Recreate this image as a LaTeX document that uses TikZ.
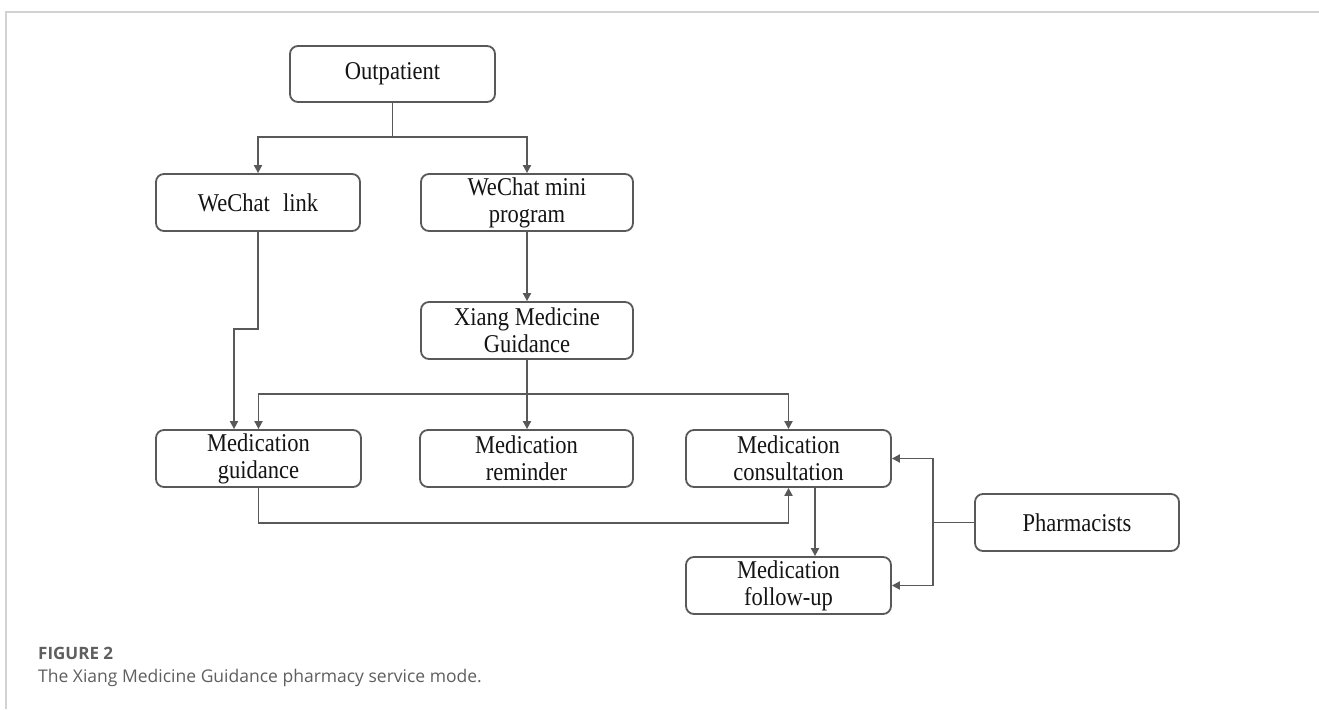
\documentclass[tikz,border=0pt]{standalone}
\usepackage{fontspec}
\setmainfont{Liberation Serif}
\newfontfamily\boxfont[FakeStretch=0.88]{Liberation Serif}
\newfontfamily\capfont{Open Sans}
\usetikzlibrary{arrows.meta,calc}
\definecolor{linec}{HTML}{595959}
\definecolor{framec}{HTML}{D2D2D2}
\definecolor{txtc}{HTML}{141414}
\definecolor{capc}{HTML}{5F5F5F}
\tikzset{
  box/.style={draw=linec, line width=1.8pt, rounded corners=8pt, inner sep=0pt,
    minimum height=57pt, align=center, text=txtc,
    font=\boxfont\fontsize{25.6}{27}\selectfont},
  conn/.style={draw=linec, line width=1.8pt},
  arr/.style={conn, -{Triangle[length=8pt,width=8pt]}}
}
\begin{document}
\begin{tikzpicture}[x=1pt,y=-1pt]
\useasboundingbox[fill=white] (0,0) rectangle (1319,709);
\draw[framec, line width=1.2pt] (6,709) -- (6,12) -- (1319,12);
% nodes
\node[box, minimum width=205pt, minimum height=56pt] (out) at (392.5,74) {Outpatient};
\node[box, minimum width=204pt] (link) at (258,202.5) {WeChat\hspace{0.3em} link};
\node[box, minimum width=212pt] (mini) at (527,202.5) {WeChat mini\\program};
\node[box, minimum width=212pt] (xiang) at (527,330.5) {Xiang Medicine\\Guidance};
\node[box, minimum width=205pt] (guid) at (258.5,458.5) {Medication\\guidance};
\node[box, minimum width=213pt] (remind) at (526.5,458.5) {Medication\\reminder};
\node[box, minimum width=205pt] (consult) at (788.5,458.5) {Medication\\consultation};
\node[box, minimum width=205pt] (follow) at (788.5,585.5) {Medication\\follow-up};
\node[box, minimum width=204pt] (pharm) at (1077,522.5) {Pharmacists};
% connectors
\coordinate (j1) at (392.5,137);
\draw[conn] (out.south) -- (j1);
\draw[arr] (j1) -| (link.north);
\draw[arr] (j1) -| (mini.north);
\coordinate (k1) at (258,329);
\coordinate (k2) at (234,329);
\draw[arr] (link.south) -- (k1) -- (k2) -- (k2 |- guid.north);
\draw[arr] (mini.south) -- (xiang.north);
\coordinate (j2) at (527,394);
\draw[conn] (xiang.south) -- (j2);
\draw[arr] (j2) -- (j2 |- remind.north);
\draw[arr] (j2) -| (guid.north);
\draw[arr] (j2) -| (consult.north);
\coordinate (g1) at (258.5,523);
\draw[arr] (guid.south) -- (g1) -| (consult.south);
\coordinate (c1) at (815,487);
\draw[arr] (c1) -- (c1 |- follow.north);
\coordinate (p1) at (933,522.5);
\draw[conn] (pharm.west) -- (p1);
\draw[arr] (p1) |- (consult.east);
\draw[arr] (p1) |- (follow.east);
% caption
\node[anchor=base west, inner sep=0pt, text=capc, font=\capfont\bfseries\fontsize{17}{20}\selectfont] (figlab) at (38,659) {FIGURE 2};
\node[anchor=base west, inner sep=0pt, text=capc, font=\capfont\fontsize{17.5}{20}\selectfont] (figcap) at (38,682) {The Xiang Medicine Guidance pharmacy service mode.};
\end{tikzpicture}
\end{document}
